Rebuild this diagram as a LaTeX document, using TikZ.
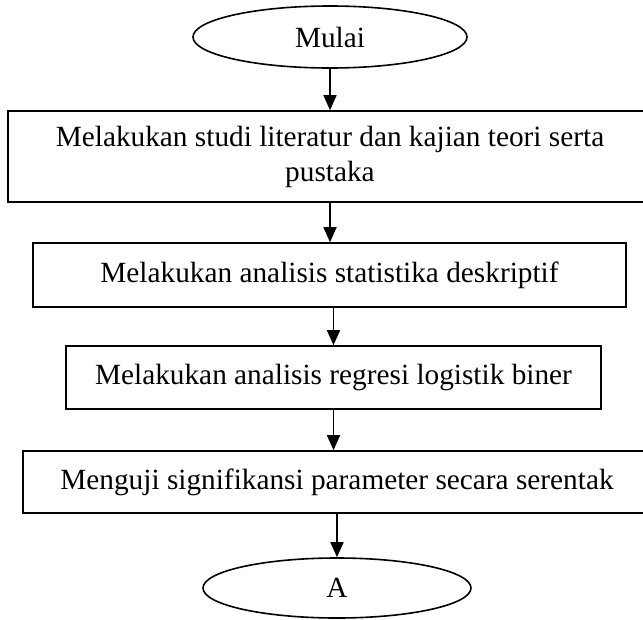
\documentclass[tikz,border=0pt]{standalone}
\usepackage{fontspec}
\setmainfont{Liberation Serif}
\usetikzlibrary{shapes.geometric,arrows.meta}
\begin{document}
\begin{tikzpicture}[x=1pt,y=-1pt,
  every node/.style={font=\fontsize{29.3}{35}\selectfont, inner sep=0pt, line width=1.6pt, draw=black},
  procbox/.style={rectangle, align=center},
  term/.style={ellipse},
  arr/.style={line width=1.6pt, -{Triangle[length=15pt,width=13pt]}}]
\useasboundingbox (0,0) rectangle (643,619);
\node[term, minimum width=274pt, minimum height=62pt] (mulai) at (330,37) {Mulai};
\node[procbox, minimum width=644pt, minimum height=91pt] (b1) at (330,156.5) {Melakukan studi literatur dan kajian teori serta\\pustaka};
\node[procbox, minimum width=593pt, minimum height=64pt] (b2) at (329.5,275) {Melakukan analisis statistika deskriptif};
\node[procbox, minimum width=535pt, minimum height=63pt] (b3) at (333.5,377.5) {Melakukan analisis regresi logistik biner};
\node[procbox, minimum width=628pt, minimum height=62pt] (b4) at (337,482) {Menguji signifikansi parameter secara serentak};
\node[term, minimum width=268pt, minimum height=60pt] (a) at (337,588) {A};
\draw[arr] (mulai.south) -- (mulai.south |- b1.north);
\draw[arr] (b1.south) -- (b1.south |- b2.north);
\draw[arr] (b2.south -| b3.north) -- (b3.north);
\draw[arr] (b3.south) -- (b3.south |- b4.north);
\draw[arr] (b4.south) -- (a.north);
\end{tikzpicture}
\end{document}
